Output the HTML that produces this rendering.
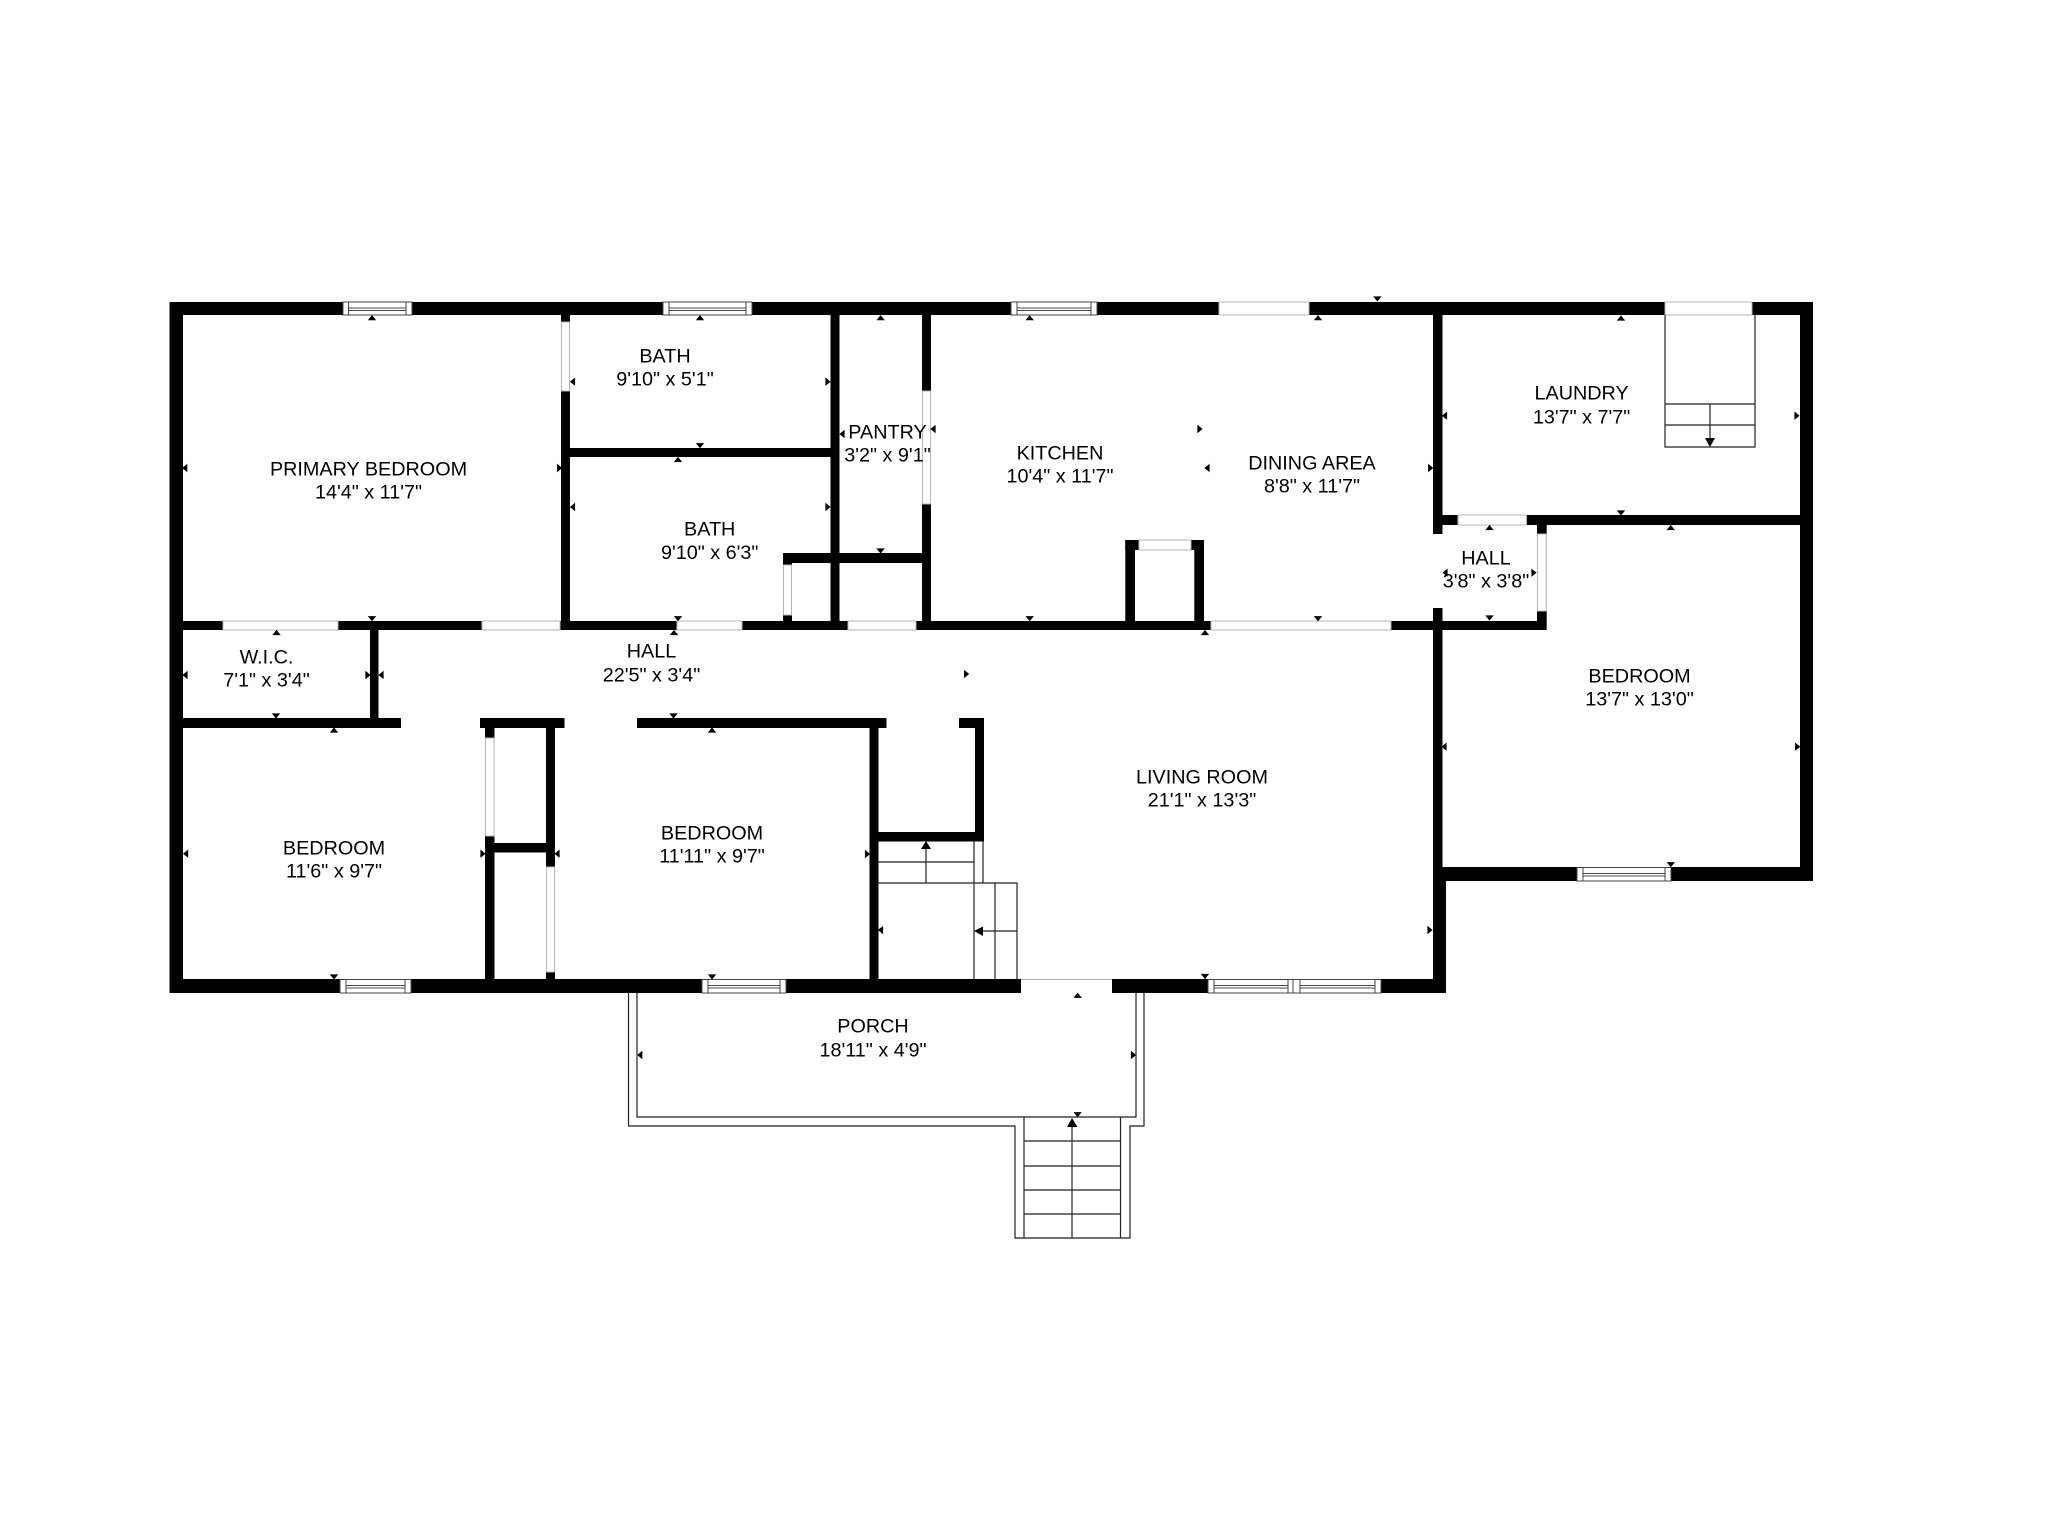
<!DOCTYPE html>
<html><head><meta charset="utf-8"><style>
html,body{margin:0;padding:0;background:#fff}
svg{display:block}
text{font-family:"Liberation Sans",Arial,sans-serif;font-size:19.8px;fill:#000;text-anchor:middle}
</style></head><body>
<svg xmlns="http://www.w3.org/2000/svg" width="2048" height="1536" viewBox="0 0 2048 1536">
<defs>
<path id="u" d="M-4.2 2.6L0-2.6L4.2 2.6Z"/>
<path id="d" d="M-4.2-2.6L0 2.6L4.2-2.6Z"/>
<path id="l" d="M2.6-4.2L-2.6 0L2.6 4.2Z"/>
<path id="r" d="M-2.6-4.2L2.6 0L-2.6 4.2Z"/>
</defs>
<rect width="2048" height="1536" fill="#fff"/>

<!-- Walls -->
<g fill="#000">
<rect x="169.5" y="302" width="1643.5" height="13"/>
<rect x="169.5" y="302" width="13.5" height="691"/>
<rect x="1800" y="302" width="13" height="579"/>
<rect x="169.5" y="979" width="851.5" height="14"/>
<rect x="1112" y="979" width="334" height="14"/>
<rect x="1433" y="867" width="13" height="126"/>
<rect x="1433" y="608" width="9.5" height="272"/>
<rect x="1433" y="315" width="9.5" height="219"/>
<rect x="1433" y="867" width="380" height="14"/>
<rect x="1433" y="515" width="25" height="10"/>
<rect x="1526.5" y="515" width="286.5" height="10"/>
<rect x="1537" y="525" width="9.7" height="9"/>
<rect x="1537" y="611" width="9.7" height="19"/>
<rect x="169.5" y="621" width="1377" height="9"/>
<rect x="561" y="315" width="9" height="7"/>
<rect x="561" y="391" width="9" height="239"/>
<rect x="561" y="448" width="278" height="9"/>
<rect x="830.5" y="315" width="9" height="315"/>
<rect x="922" y="315" width="9" height="76"/>
<rect x="922" y="504" width="9" height="126"/>
<rect x="783" y="553" width="148" height="10"/>
<rect x="783" y="553" width="9" height="12"/>
<rect x="783" y="615" width="9" height="15"/>
<rect x="1125.3" y="540" width="9.7" height="90"/>
<rect x="1125.3" y="540" width="13.4" height="10"/>
<rect x="1194.3" y="540" width="9.7" height="90"/>
<rect x="1191.3" y="540" width="12.7" height="10"/>
<rect x="370" y="621" width="8.5" height="107"/>
<rect x="169.5" y="718" width="231.5" height="10"/>
<rect x="480" y="718" width="84.5" height="10"/>
<rect x="637" y="718" width="249.5" height="10"/>
<rect x="959" y="718" width="25" height="10"/>
<rect x="485" y="728" width="9.5" height="10"/>
<rect x="485" y="836" width="9.5" height="150"/>
<rect x="485" y="843" width="70" height="9.5"/>
<rect x="546" y="728" width="9" height="139"/>
<rect x="546" y="972" width="9" height="14"/>
<rect x="869.5" y="718" width="9" height="265"/>
<rect x="975" y="718" width="9" height="123"/>
<rect x="869.5" y="832" width="114.5" height="9.5"/>
</g>

<!-- Openings -->
<g fill="#fff" stroke="#b5b5b5" stroke-width="1">
<rect x="223" y="621" width="115" height="9"/>
<rect x="482" y="621" width="78" height="9"/>
<rect x="677" y="621" width="65" height="9"/>
<rect x="848" y="621" width="68" height="9"/>
<rect x="1211" y="621" width="180" height="9"/>
<rect x="1219" y="302" width="90" height="13"/>
<rect x="1665" y="302" width="87" height="13"/>
<rect x="1458" y="515" width="68.5" height="10"/>
<rect x="1139" y="540" width="52" height="10"/>
<rect x="561.5" y="322" width="8" height="69"/>
<rect x="922.5" y="391" width="8" height="113"/>
<rect x="783.5" y="565" width="8" height="50"/>
<rect x="485.5" y="738" width="8.5" height="98"/>
<rect x="546.5" y="867" width="8" height="105"/>
<rect x="1537.5" y="534" width="8.7" height="77"/>
</g>
<rect x="1021" y="979" width="91" height="14" fill="#fff"/>
<line x1="1021" y1="979.5" x2="1112" y2="979.5" stroke="#b5b5b5"/>
<rect x="1433" y="534" width="9.5" height="74" fill="#fff"/>

<!-- Windows -->
<g fill="#fff" stroke="#444" stroke-width="1">
<rect x="343" y="302" width="69" height="13"/><path d="M348.5 302V315M406 302V315M348.5 308H406M348.5 310.5H406" fill="none"/>
<rect x="663" y="302" width="89" height="13"/><path d="M669 302V315M746 302V315M669 308H746M669 310.5H746" fill="none"/>
<rect x="1011" y="302" width="86" height="13"/><path d="M1017 302V315M1091 302V315M1017 308H1091M1017 310.5H1091" fill="none"/>
<rect x="340" y="979.5" width="71" height="13.5"/><path d="M346 979.5V993M405 979.5V993M346 985.5H405M346 988H405" fill="none"/>
<rect x="702" y="979.5" width="84" height="13.5"/><path d="M708 979.5V993M780 979.5V993M708 985.5H780M708 988H780" fill="none"/>
<rect x="1208" y="979.5" width="173" height="13.5"/><path d="M1214 979.5V993M1288 979.5V993M1293 979.5V993M1300 979.5V993M1375 979.5V993M1214 985.5H1288M1214 988H1288M1300 985.5H1375M1300 988H1375" fill="none"/>
<rect x="1577" y="867.5" width="94" height="13.5"/><path d="M1583 867.5V881M1665 867.5V881M1583 873.5H1665M1583 876H1665" fill="none"/>
</g>

<!-- Stairs and porch -->
<g fill="none" stroke="#222" stroke-width="1.2">
<path d="M1665 315V447H1755V315M1665 404H1755M1665 425H1755M1710 404V440"/>
<path d="M974 841V979M983 841V883M878 862H974M878 883H1017V979M995 883V979M926 883V848M1017 931H982"/>
</g>
<path d="M1705 438H1715L1710 447ZM921 849H931L926 841ZM983 926.5V936L974 931Z" fill="#000"/>
<g fill="none" stroke="#222" stroke-width="1.2">
<path d="M628.5 993V1126H1015V1238H1130V1126H1144V993M637 993V1117H1136V993"/>
<path d="M1024 1117V1238M1120.5 1117V1238M1024 1141H1120.5M1024 1166H1120.5M1024 1190H1120.5M1024 1214H1120.5M1072 1238V1125"/>
</g>
<path d="M1067 1127H1077.5L1072 1118Z" fill="#000"/>

<!-- Dimension ticks -->
<g fill="#000">
<use href="#u" x="372" y="317.7"/><use href="#u" x="700" y="317.7"/><use href="#u" x="880.6" y="317.7"/>
<use href="#l" x="184.7" y="468"/><use href="#r" x="559.7" y="468"/>
<use href="#l" x="572.5" y="381.7"/><use href="#r" x="828" y="381.7"/>
<use href="#d" x="700" y="445.7"/><use href="#u" x="678" y="459.5"/>
<use href="#l" x="572.5" y="507"/><use href="#r" x="828" y="507"/>
<use href="#l" x="842" y="434"/><use href="#l" x="933" y="429"/>
<use href="#d" x="880.6" y="551"/>
<use href="#d" x="372" y="618.7"/><use href="#u" x="276.5" y="632.5"/>
<use href="#d" x="678" y="618.7"/><use href="#u" x="674" y="632.5"/>
<use href="#l" x="185" y="675"/><use href="#r" x="368" y="675"/><use href="#l" x="381" y="675"/>
<use href="#u" x="1029.7" y="317.7"/><use href="#u" x="1318" y="317.7"/><use href="#d" x="1377.4" y="299"/><use href="#u" x="1621" y="318"/>
<use href="#r" x="1200" y="429"/><use href="#l" x="1207" y="468"/><use href="#r" x="1430.7" y="468"/>
<use href="#l" x="1444.5" y="415.7"/><use href="#r" x="1797" y="415.7"/>
<use href="#d" x="1621" y="513"/><use href="#u" x="1489.5" y="527.5"/><use href="#u" x="1670.7" y="527.5"/>
<use href="#l" x="1445" y="572.7"/><use href="#r" x="1534" y="572.7"/><use href="#d" x="1489.5" y="618"/>
<use href="#d" x="1029.7" y="618.7"/><use href="#d" x="1318" y="618.7"/><use href="#u" x="1205" y="632.5"/>
<use href="#r" x="966.6" y="674"/>
<use href="#d" x="276" y="716"/><use href="#u" x="334" y="730"/>
<use href="#l" x="185.6" y="853.7"/><use href="#r" x="483" y="853.7"/><use href="#l" x="557" y="853.7"/><use href="#r" x="867.5" y="854"/>
<use href="#d" x="334" y="977"/><use href="#d" x="712" y="977"/>
<use href="#d" x="673.5" y="716"/><use href="#u" x="712" y="730"/>
<use href="#l" x="880.5" y="930"/>
<use href="#l" x="1444" y="746.7"/><use href="#r" x="1797.7" y="746.7"/>
<use href="#d" x="1670.8" y="864.7"/><use href="#d" x="1205" y="976.5"/><use href="#r" x="1430" y="930"/>
<use href="#u" x="1077.7" y="995.3"/>
<use href="#l" x="639.8" y="1055"/><use href="#r" x="1133.5" y="1055"/><use href="#d" x="1077.6" y="1114.7"/>
</g>

<!-- Labels -->
<text x="368.5" y="475.3">PRIMARY BEDROOM</text><text x="368.5" y="498.3">14'4" x 11'7"</text>
<text x="665" y="362.3">BATH</text><text x="665" y="385.3">9'10" x 5'1"</text>
<text x="709.7" y="535.3">BATH</text><text x="709.7" y="559">9'10" x 6'3"</text>
<text x="887.5" y="438.3">PANTRY</text><text x="887.5" y="461.3">3'2" x 9'1"</text>
<text x="651.5" y="657.3">HALL</text><text x="651.5" y="681.3">22'5" x 3'4"</text>
<text x="266.5" y="663.3">W.I.C.</text><text x="266.5" y="686.3">7'1" x 3'4"</text>
<text x="1060" y="459.3">KITCHEN</text><text x="1060" y="482.3">10'4" x 11'7"</text>
<text x="1312" y="469.3">DINING AREA</text><text x="1312" y="492.3">8'8" x 11'7"</text>
<text x="1581.6" y="399.3">LAUNDRY</text><text x="1581.6" y="423.3">13'7" x 7'7"</text>
<text x="1486" y="564.3">HALL</text><text x="1486" y="587.3">3'8" x 3'8"</text>
<text x="1639.5" y="682.3">BEDROOM</text><text x="1639.5" y="705.3">13'7" x 13'0"</text>
<text x="334" y="854.3">BEDROOM</text><text x="334" y="877.3">11'6" x 9'7"</text>
<text x="712" y="839.3">BEDROOM</text><text x="712" y="862.3">11'11" x 9'7"</text>
<text x="1202" y="783.3">LIVING ROOM</text><text x="1202" y="806.3">21'1" x 13'3"</text>
<text x="873" y="1032.3">PORCH</text><text x="873" y="1056.3">18'11" x 4'9"</text>
</svg>
</body></html>
